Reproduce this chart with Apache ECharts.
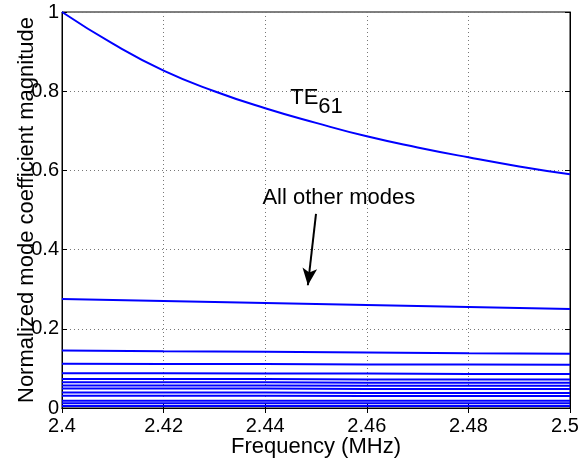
<!DOCTYPE html>
<html><head><meta charset="utf-8">
<script src="https://cdn.jsdelivr.net/npm/echarts@6/dist/echarts.min.js"></script>
<style>html,body{margin:0;padding:0;background:#fff}#c{width:581px;height:459px}</style>
</head><body><div id="c"></div>
<script>
var freqFine = [2.40,2.41,2.42,2.43,2.44,2.45,2.46,2.47,2.48,2.49,2.50];
var te61 = [1.000,0.920,0.852,0.800,0.757,0.720,0.686,0.658,0.633,0.610,0.590];
var freqCoarse = [2.40,2.42,2.44,2.46,2.48,2.50];
var otherModes = [
  [0.275,0.270,0.265,0.260,0.255,0.250],
  [0.145,0.143,0.142,0.140,0.138,0.137],
  [0.112,0.111,0.111,0.110,0.110,0.109],
  [0.088,0.088,0.087,0.087,0.086,0.086],
  [0.073,0.073,0.073,0.072,0.072,0.072],
  [0.065,0.065,0.065,0.064,0.064,0.064],
  [0.057,0.057,0.057,0.056,0.056,0.056],
  [0.049,0.049,0.049,0.048,0.048,0.048],
  [0.039,0.039,0.039,0.038,0.038,0.038],
  [0.031,0.031,0.031,0.030,0.030,0.030],
  [0.018,0.018,0.018,0.018,0.018,0.018],
  [0.012,0.012,0.012,0.012,0.012,0.012],
  [0.005,0.005,0.005,0.005,0.005,0.005]
];
var xTicks = ['2.4','2.42','2.44','2.46','2.48','2.5'];
var yTicks = ['0','0.2','0.4','0.6','0.8','1'];
var teLabelPos = [2.4501, 0.783];
var otherLabelPos = [2.4545, 0.530];
var arrowFrom = [2.4500, 0.490];
var arrowTo = [2.4484, 0.310];

var font = 'Liberation Sans, Arial, sans-serif';
var blue = '#0000ff';
function zip(xs, ys){ return xs.map(function(x,i){return [x, ys[i]];}); }

var series = [{
  type:'line', data: zip(freqFine, te61), smooth:true, showSymbol:false,
  lineStyle:{color:blue, width:2}, xAxisIndex:0, yAxisIndex:0, z:3
}];
otherModes.forEach(function(m){
  series.push({type:'line', data: zip(freqCoarse, m), showSymbol:false,
    lineStyle:{color:blue, width:2}, xAxisIndex:0, yAxisIndex:0, z:3});
});
series.push({
  type:'scatter', data:[], xAxisIndex:0, yAxisIndex:0, silent:true,
  markPoint:{
    symbol:'circle', symbolSize:0, silent:true,
    data:[
      {coord: teLabelPos, label:{show:true, formatter:'{a|TE}{b|61}', color:'#000',
        rich:{a:{fontFamily:font, fontSize:22, color:'#000', lineHeight:24},
              b:{fontFamily:font, fontSize:22, color:'#000', padding:[18,0,0,0], lineHeight:24}}}},
      {coord: otherLabelPos, label:{show:true, formatter:'All other modes', fontFamily:font, fontSize:22, color:'#000'}}
    ]
  },
  markLine:{
    silent:true, symbol:['none','arrow'], symbolSize:[11,17],
    lineStyle:{color:'#000', width:2, type:'solid'},
    label:{show:false},
    data:[[{coord: arrowFrom},{coord: arrowTo}]]
  }
});

var chart = echarts.init(document.getElementById('c'), null, {renderer:'canvas'});
chart.setOption({
  animation:false,
  grid:{left:62, right:11, top:12, bottom:51, show:true, borderColor:'#000', borderWidth:1,
        containLabel:false, outerBoundsMode:'none'},
  xAxis:[{
    type:'value', min:2.4, max:2.5, interval:0.02,
    name:'Frequency (MHz)', nameLocation:'middle', nameGap:28, nameMoveOverlap:false,
    nameTextStyle:{fontFamily:font, fontSize:22, color:'#000'},
    axisLine:{lineStyle:{color:'#000', width:1}},
    axisTick:{inside:true, length:5, lineStyle:{color:'#000'}},
    axisLabel:{fontFamily:font, fontSize:20, color:'#000', margin:8, hideOverlap:false,
      rich:{last:{fontFamily:font, fontSize:20, color:'#000', padding:[0,10,0,0]}},
      formatter:function(v){ var i=Math.round((v-2.4)/0.02); var t=xTicks[i]||'';
        return i===xTicks.length-1 ? '{last|'+t+'}' : t; }},
    splitLine:{show:true, lineStyle:{color:'#777', type:[1,3], width:1}}
  },{
    type:'value', min:2.4, max:2.5, interval:0.02, position:'top',
    axisLine:{lineStyle:{color:'#000'}}, axisTick:{inside:true, length:5, lineStyle:{color:'#000'}},
    axisLabel:{show:false}, splitLine:{show:false}
  }],
  yAxis:[{
    type:'value', min:0, max:1, interval:0.2,
    name:'Normalized mode coefficient magnitude', nameLocation:'middle', nameGap:24, nameMoveOverlap:false,
    nameTextStyle:{fontFamily:font, fontSize:22, color:'#000'},
    axisLine:{show:true, lineStyle:{color:'#000', width:1}},
    axisTick:{show:true, inside:true, length:5, lineStyle:{color:'#000'}},
    axisLabel:{fontFamily:font, fontSize:20, color:'#000', margin:3, hideOverlap:false,
      formatter:function(v){ var i=Math.round(v/0.2); return yTicks[i]||''; }},
    splitLine:{show:true, lineStyle:{color:'#777', type:[1,3], width:1}}
  },{
    type:'value', min:0, max:1, interval:0.2, position:'right',
    axisLine:{show:true, lineStyle:{color:'#000'}}, axisTick:{show:true, inside:true, length:5, lineStyle:{color:'#000'}},
    axisLabel:{show:false}, splitLine:{show:false}
  }],
  series: series
});
</script></body></html>
